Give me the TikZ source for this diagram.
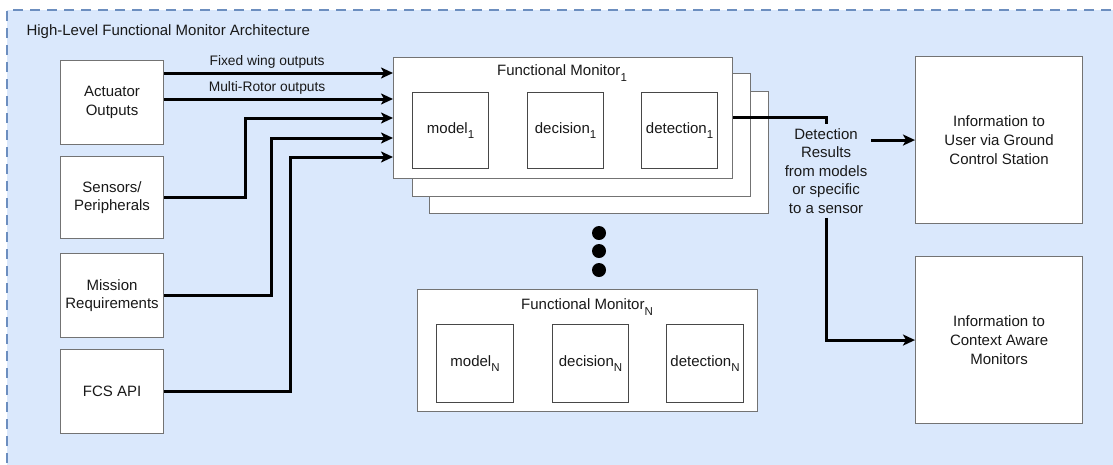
\documentclass[tikz,border=0pt]{standalone}
\usepackage{fontspec}
\setmainfont{Liberation Sans}
\usetikzlibrary{arrows.meta}
\definecolor{panelfill}{HTML}{DAE8FC}
\definecolor{paneledge}{HTML}{6C8EBF}
\newcommand\lowsub[1]{\raisebox{-0.35em}{\fontsize{11.5}{11.5}\selectfont #1}}
\tikzset{
  txt/.style={font=\fontsize{15}{18.6}\selectfont, text=black!90, align=center},
  small/.style={font=\fontsize{13.8}{15}\selectfont, text=black!90},
  box/.style={txt, draw=black!55, fill=white, line width=1.1pt, inner sep=0pt, anchor=north west},
  inbox/.style={box, draw=black!72, minimum width=76pt, minimum height=76pt},
  iobox/.style={box, minimum width=103pt, minimum height=84pt},
  outbox/.style={box, minimum width=167pt, minimum height=167pt},
  arr/.style={line width=3pt, -{Stealth[length=12pt,width=11pt,inset=3pt]}},
  wire/.style={line width=3pt},
  dot/.style={circle, fill=black, minimum size=14pt, inner sep=0pt}
}
\begin{document}
\begin{tikzpicture}[x=1pt,y=-1pt]
\useasboundingbox (0,0) rectangle (1113,464);
% dashed panel running past the right and bottom edges
\fill[panelfill] (7,10) rectangle (1125,480);
\draw[paneledge, line width=2.2pt, dash pattern=on 10pt off 7pt] (7,480) -- (7,10) -- (1125,10);
\node[txt, anchor=west] (title) at (23,32) {High-Level Functional Monitor Architecture};

% input sources
\node[iobox] (act) at (60,60) {Actuator\\Outputs};
\node[iobox, minimum height=82pt] (sen) at (60,156) {Sensors/\\Peripherals};
\node[iobox] (mis) at (60,253) {Mission\\Requirements};
\node[iobox] (fcs) at (60,349) {FCS API};

% stacked functional monitors
\node[box, minimum width=339pt, minimum height=122pt] (fm3) at (429,91) {};
\node[box, minimum width=338pt, minimum height=123pt] (fm2) at (412,73) {};
\node[box, minimum width=339pt, minimum height=121pt] (fm1) at (393,57) {};
\node[txt] (fm1t) at (562,73) {Functional Monitor\lowsub{1}};
\node[inbox] (mod1) at (412,92) {model\lowsub{1}};
\node[inbox] (dec1) at (527,92) {decision\lowsub{1}};
\node[inbox] (det1) at (641,92) {detection\lowsub{1}};

% ellipsis between monitors
\node[dot] (d1) at (599,233) {};
\node[dot] (d2) at (599,251) {};
\node[dot] (d3) at (599,270) {};

\node[box, minimum width=340pt, minimum height=122pt] (fmN) at (417,289) {};
\node[txt] (fmNt) at (587,307) {Functional Monitor\lowsub{N}};
\node[inbox, minimum width=77pt, minimum height=78pt] (modN) at (436,324) {model\lowsub{N}};
\node[inbox, minimum width=76pt, minimum height=78pt] (decN) at (552,324) {decision\lowsub{N}};
\node[inbox, minimum width=77pt, minimum height=78pt] (detN) at (666,324) {detection\lowsub{N}};

% outputs
\node[outbox] (gcs) at (915,56) {Information to\\User via Ground\\Control Station};
\node[outbox] (cam) at (915,256) {Information to\\Context Aware\\Monitors};
\node[txt, inner sep=4pt] (res) at (826,171) {Detection\\Results\\from models\\or specific\\to a sensor};

% input rows on the monitor's left edge
\coordinate (r1) at (0,73);
\coordinate (r2) at (0,99);
\coordinate (r3) at (0,118);
\coordinate (r4) at (0,138);
\coordinate (r5) at (0,157);
\coordinate (rout) at (0,117);

\draw[arr] (act.east |- r1) -- node[small, above, pos=0.45, inner sep=3pt] (lfw) {Fixed wing outputs} (fm1.west |- r1);
\draw[arr] (act.east |- r2) -- node[small, above, pos=0.45, inner sep=3pt] (lmr) {Multi-Rotor outputs} (fm1.west |- r2);
\draw[arr] (sen.east) -- ++(81,0) |- (fm1.west |- r3);
\draw[arr] (mis.east) -- ++(107,0) |- (fm1.west |- r4);
\draw[arr] (fcs.east) -- ++(126,0) |- (fm1.west |- r5);

% detection results fan-out
\draw[wire] (fm1.east |- rout) -| (res.north);
\draw[arr] (res.east |- gcs.west) -- (gcs.west);
\draw[arr] (res.south) |- (cam.west);
\end{tikzpicture}
\end{document}
